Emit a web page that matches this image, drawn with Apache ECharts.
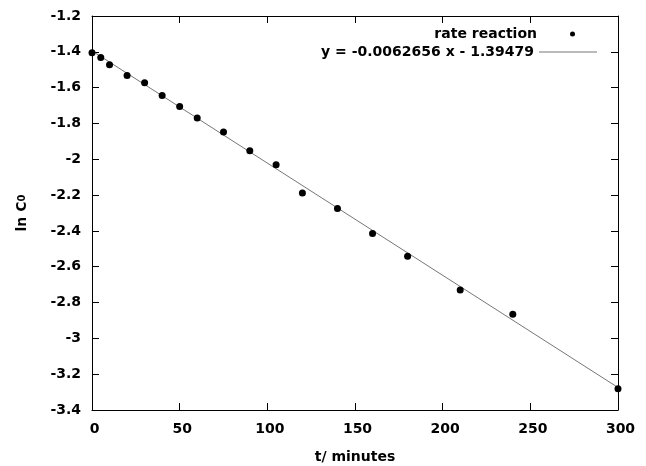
<!DOCTYPE html>
<html><head><meta charset="utf-8">
<script src="https://cdn.jsdelivr.net/npm/echarts/dist/echarts.min.js"></script>
<style>html,body{margin:0;padding:0;background:#fff}#c{width:646px;height:466px}</style>
</head><body><div id="c"></div>
<script>
// measured data (t in minutes, ln C0)
const times = [0, 5, 10, 20, 30, 40, 50, 60, 75, 90, 105, 120, 140, 160, 180, 210, 240, 300];
const lnC = [-1.405, -1.432, -1.472, -1.532, -1.573, -1.644, -1.705, -1.770, -1.848, -1.953, -2.030, -2.188, -2.275, -2.415, -2.542, -2.730, -2.865, -3.282];
// fitted line endpoints
const fitT = [0, 300];
const fitY = [-1.39479, -3.27447];
const seriesNames = ['rate reaction', 'y = -0.0062656 x - 1.39479'];
const xRange = [0, 300, 50];
const yRange = [-3.4, -1.2, 0.2];

const FONT = 'DejaVu Sans';
const FS = 14;
const FW = 'bold';
const txt = {color: '#000', fontFamily: FONT, fontSize: FS, fontWeight: FW};
const chart = echarts.init(document.getElementById('c'), null, {renderer: 'canvas'});

function axisBase(isX, pos, showLabel) {
  const r = isX ? xRange : yRange;
  return {
    type: 'value', position: pos, min: r[0], max: r[1], interval: r[2],
    axisLine: {show: true, onZero: false, lineStyle: {color: '#000', width: 1}},
    axisTick: {show: true, inside: true, length: 7, lineStyle: {color: '#000', width: 1}},
    splitLine: {show: false},
    axisLabel: Object.assign({show: showLabel}, txt)
  };
}

const xBottom = axisBase(true, 'bottom', true);
xBottom.axisLabel.margin = 12;
xBottom.axisLabel.padding = [0, 0, 0, 5];
xBottom.name = 't/ minutes';
xBottom.nameLocation = 'middle';
xBottom.nameGap = 40;
xBottom.nameTextStyle = Object.assign({}, txt);
const xTop = axisBase(true, 'top', false);

const yLeft = axisBase(false, 'left', true);
yLeft.axisLabel.margin = 11;
yLeft.axisLabel.formatter = v => String(+v.toFixed(1));
yLeft.name = '{a|ln C}{b|0}';
yLeft.nameLocation = 'middle';
yLeft.nameGap = 63;
yLeft.nameRotate = 90;
yLeft.nameTextStyle = Object.assign({}, txt, {
  rich: {
    a: Object.assign({}, txt),
    b: Object.assign({}, txt, {fontSize: 10})
  }
});
const yRight = axisBase(false, 'right', false);

const dotIcon = 'path://M5,0A5,5,0,1,1,5,10A5,5,0,1,1,5,0Z';
const lineIcon = 'path://M0,0H58V1H0Z';

const option = {
  animation: false,
  backgroundColor: '#fff',
  grid: {left: 92, right: 28, top: 16, bottom: 56, containLabel: false, outerBoundsMode: 'none'},
  xAxis: [xBottom, xTop],
  yAxis: [yLeft, yRight],
  legend: [
    {data: [{name: seriesNames[0], icon: dotIcon}], orient: 'vertical', right: 71, top: 27, align: 'right',
     itemWidth: 61, itemHeight: 5, padding: 0, symbolKeepAspect: true, selectedMode: false,
     itemStyle: {color: '#000', borderWidth: 0, opacity: 1},
     textStyle: Object.assign({}, txt)},
    {data: [{name: seriesNames[1], icon: lineIcon}], orient: 'vertical', right: 49, top: 45, align: 'right',
     itemWidth: 58, itemHeight: 14, padding: 0, symbolKeepAspect: true, selectedMode: false,
     itemStyle: {color: '#777', borderWidth: 0, opacity: 1},
     textStyle: Object.assign({}, txt)}
  ],
  series: [
    {name: seriesNames[1], type: 'line', xAxisIndex: 0, yAxisIndex: 0,
     data: fitT.map((t, i) => [t, fitY[i]]), symbol: 'none', showSymbol: false,
     color: '#777', lineStyle: {color: '#777', width: 1}, z: 2},
    {name: seriesNames[0], type: 'scatter', xAxisIndex: 0, yAxisIndex: 0,
     data: times.map((t, i) => [t, lnC[i]]), symbol: 'circle', symbolSize: 7,
     color: '#000', itemStyle: {color: '#000', opacity: 1}, z: 3}
  ]
};
chart.setOption(option);
</script></body></html>
